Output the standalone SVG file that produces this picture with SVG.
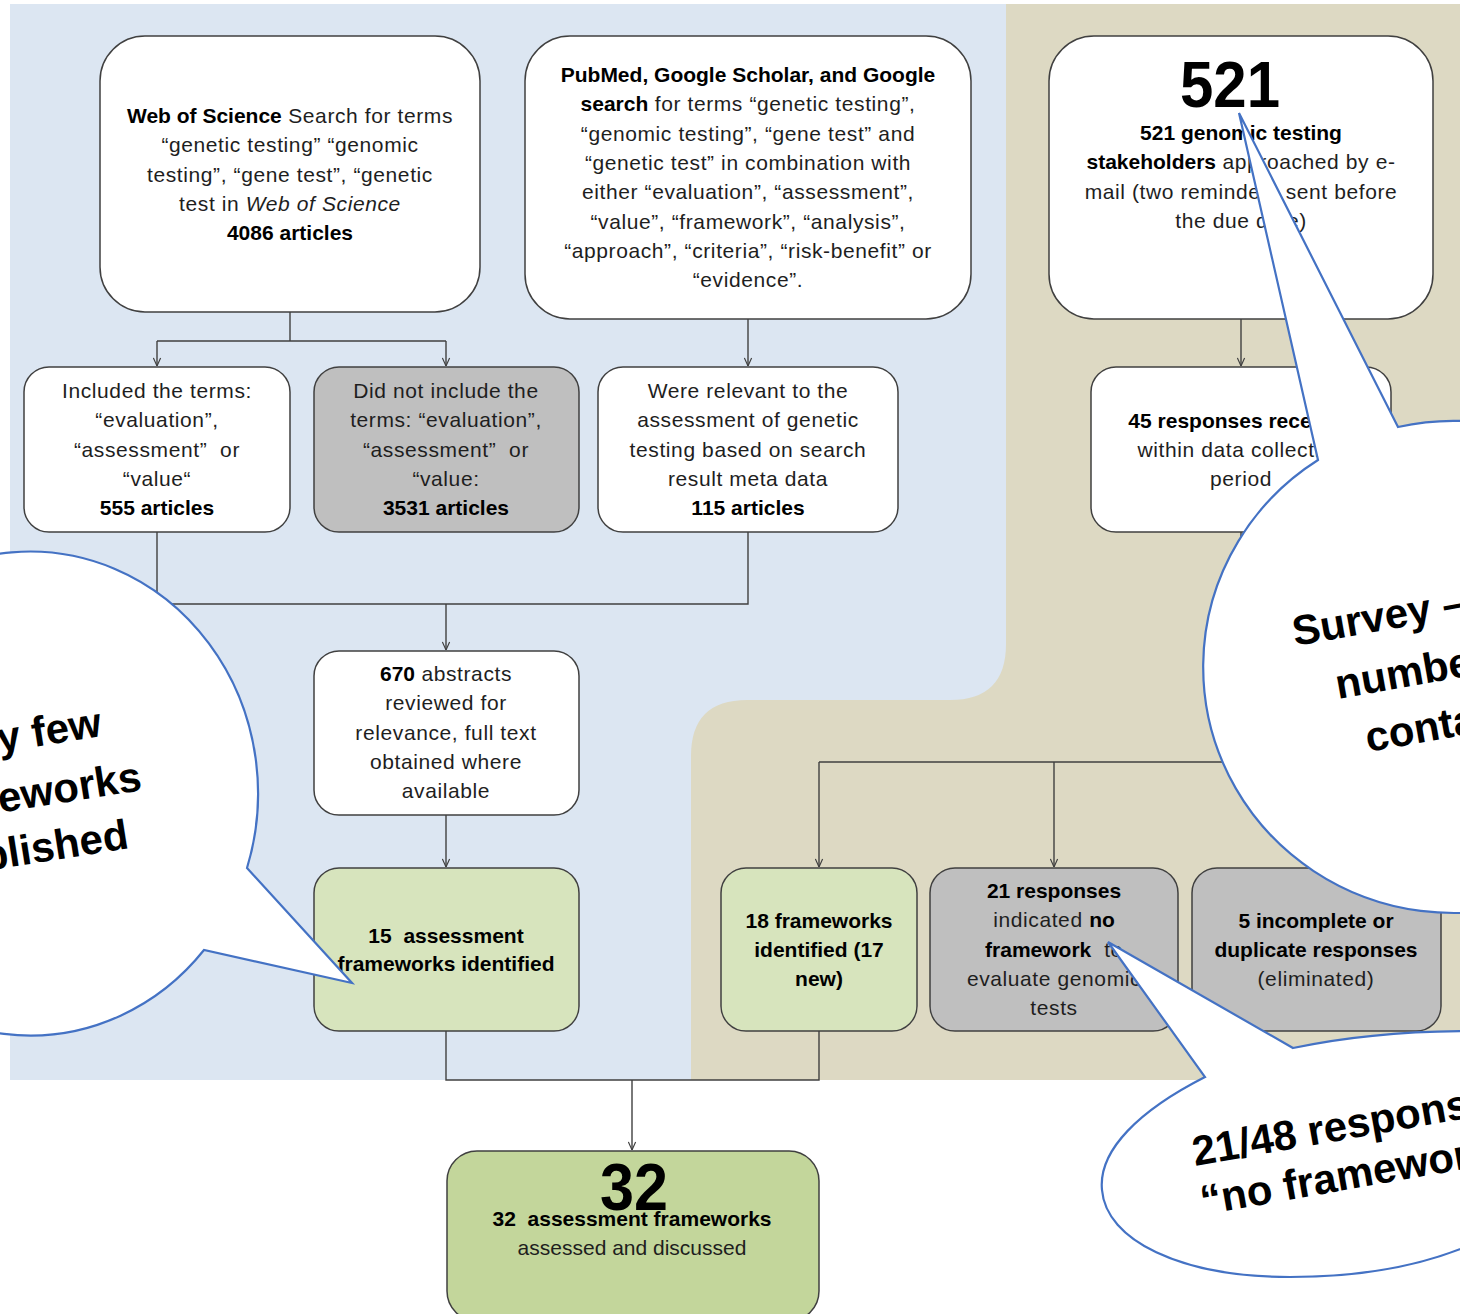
<svg xmlns="http://www.w3.org/2000/svg" width="1460" height="1314" viewBox="0 0 1460 1314">
<style>
.box{stroke:#404040;stroke-width:1.5}
.w{fill:#ffffff}
.g{fill:#bfbfbf}
.lg{fill:#d7e4bd}
.dg{fill:#c3d69b}
.t{font-family:"Liberation Sans",Arial,sans-serif;font-size:21px;fill:#1e1e1e;text-anchor:middle;letter-spacing:0.6px}
.b{font-weight:bold;letter-spacing:0;fill:#000}
.big{font-family:"Liberation Sans",Arial,sans-serif;font-weight:bold;fill:#000;text-anchor:middle}
.co{fill:#ffffff;stroke:#4472c4;stroke-width:2.2;stroke-linejoin:miter}
.c{font-family:"Liberation Sans",Arial,sans-serif;font-weight:bold;font-size:42px;fill:#000}
</style>
<defs>
<marker id="arr" viewBox="0 0 10 10" refX="10" refY="5" markerWidth="9" markerHeight="9" markerUnits="userSpaceOnUse" orient="auto">
<path d="M1,1 L10,5 L1,9" fill="none" stroke="#404040" stroke-width="1.3"/>
</marker>
</defs>

<g id="background">
<rect x="10" y="4" width="996" height="1076" fill="#dce6f2"/>
<path d="M1006,4 H1460 V1080 H691 V756 Q691,700 747,700 H950 Q1006,700 1006,644 Z" fill="#ddd9c3"/>
</g>

<g id="connectors" fill="none" stroke="#404040" stroke-width="1.4">
<path d="M290,312 V341 M157,341 H446"/>
<path d="M157,341 V366" marker-end="url(#arr)"/>
<path d="M446,341 V366" marker-end="url(#arr)"/>
<path d="M748,319 V366" marker-end="url(#arr)"/>
<path d="M1241,319 V366" marker-end="url(#arr)"/>
<path d="M157,532 V604 H748 V532"/>
<path d="M446,604 V650" marker-end="url(#arr)"/>
<path d="M446,815 V867" marker-end="url(#arr)"/>
<path d="M1241,532 V762 M819,762 H1316"/>
<path d="M819,762 V867" marker-end="url(#arr)"/>
<path d="M1054,762 V867" marker-end="url(#arr)"/>
<path d="M1316,762 V867" marker-end="url(#arr)"/>
<path d="M446,1031 V1080 H819 V1031"/>
<path d="M632,1080 V1150" marker-end="url(#arr)"/>
</g>

<g id="node-wos">
<rect class="box w" x="100" y="36" width="380" height="276" rx="45"/>
<text class="t" x="290" y="123"><tspan class="b">Web of Science</tspan> Search for terms</text>
<text class="t" x="290" y="152">“genetic testing” “genomic</text>
<text class="t" x="290" y="182">testing”, “gene test”, “genetic</text>
<text class="t" x="290" y="211">test in <tspan font-style="italic">Web of Science</tspan></text>
<text class="t b" x="290" y="240">4086 articles</text>
</g>

<g id="node-pubmed">
<rect class="box w" x="525" y="36" width="446" height="283" rx="45"/>
<text class="t b" x="748" y="82">PubMed, Google Scholar, and Google</text>
<text class="t" x="748" y="111"><tspan class="b">search</tspan> for terms “genetic testing”,</text>
<text class="t" x="748" y="141">“genomic testing”, “gene test” and</text>
<text class="t" x="748" y="170">“genetic test” in combination with</text>
<text class="t" x="748" y="199">either “evaluation”, “assessment”,</text>
<text class="t" x="748" y="229">“value”, “framework”, “analysis”,</text>
<text class="t" x="748" y="258">“approach”, “criteria”, “risk-benefit” or</text>
<text class="t" x="748" y="287">“evidence”.</text>
</g>

<g id="node-521">
<rect class="box w" x="1049" y="36" width="384" height="283" rx="45"/>
<text class="big" x="1230" y="107" font-size="64" textLength="100" lengthAdjust="spacingAndGlyphs">521</text>
<text class="t b" x="1241" y="140">521 genomic testing</text>
<text class="t" x="1241" y="169"><tspan class="b">stakeholders</tspan> approached by e-</text>
<text class="t" x="1241" y="199">mail (two reminders sent before</text>
<text class="t" x="1241" y="228">the due date)</text>
</g>

<g id="node-included">
<rect class="box w" x="24" y="367" width="266" height="165" rx="25"/>
<text class="t" x="157" y="398">Included the terms:</text>
<text class="t" x="157" y="427">“evaluation”,</text>
<text class="t" x="157" y="457">“assessment”&#160; or</text>
<text class="t" x="157" y="486">“value“</text>
<text class="t b" x="157" y="515">555 articles</text>
</g>

<g id="node-notincluded">
<rect class="box g" x="314" y="367" width="265" height="165" rx="25"/>
<text class="t" x="446" y="398">Did not include the</text>
<text class="t" x="446" y="427">terms: “evaluation”,</text>
<text class="t" x="446" y="457">“assessment”&#160; or</text>
<text class="t" x="446" y="486">“value:</text>
<text class="t b" x="446" y="515">3531 articles</text>
</g>

<g id="node-relevant">
<rect class="box w" x="598" y="367" width="300" height="165" rx="25"/>
<text class="t" x="748" y="398">Were relevant to the</text>
<text class="t" x="748" y="427">assessment of genetic</text>
<text class="t" x="748" y="457">testing based on search</text>
<text class="t" x="748" y="486">result meta data</text>
<text class="t b" x="748" y="515">115 articles</text>
</g>

<g id="node-45">
<rect class="box w" x="1091" y="367" width="300" height="165" rx="25"/>
<text class="t b" x="1241" y="428">45 responses received</text>
<text class="t" x="1241" y="457">within data collection</text>
<text class="t" x="1241" y="486">period</text>
</g>

<g id="node-670">
<rect class="box w" x="314" y="651" width="265" height="164" rx="25"/>
<text class="t" x="446" y="681"><tspan class="b">670</tspan> abstracts</text>
<text class="t" x="446" y="710">reviewed for</text>
<text class="t" x="446" y="740">relevance, full text</text>
<text class="t" x="446" y="769">obtained where</text>
<text class="t" x="446" y="798">available</text>
</g>

<g id="node-15">
<rect class="box lg" x="314" y="868" width="265" height="163" rx="25"/>
<text class="t b" x="446" y="943">15&#160; assessment</text>
<text class="t b" x="446" y="971">frameworks identified</text>
</g>

<g id="node-18">
<rect class="box lg" x="721" y="868" width="196" height="163" rx="25"/>
<text class="t b" x="819" y="928">18 frameworks</text>
<text class="t b" x="819" y="957">identified (17</text>
<text class="t b" x="819" y="986">new)</text>
</g>

<g id="node-21">
<rect class="box g" x="930" y="868" width="248" height="163" rx="25"/>
<text class="t b" x="1054" y="898">21 responses</text>
<text class="t" x="1054" y="927">indicated <tspan class="b">no</tspan></text>
<text class="t" x="1054" y="957"><tspan class="b">framework</tspan>&#160; to</text>
<text class="t" x="1054" y="986">evaluate genomic</text>
<text class="t" x="1054" y="1015">tests</text>
</g>

<g id="node-5">
<rect class="box g" x="1192" y="868" width="249" height="163" rx="25"/>
<text class="t b" x="1316" y="928">5 incomplete or</text>
<text class="t b" x="1316" y="957">duplicate responses</text>
<text class="t" x="1316" y="986">(eliminated)</text>
</g>

<g id="node-32">
<rect class="box dg" x="447" y="1151" width="372" height="170" rx="30"/>
<text class="big" x="634" y="1210" font-size="66" textLength="68" lengthAdjust="spacingAndGlyphs">32</text>
<text class="t b" x="632" y="1226">32&#160; assessment frameworks</text>
<text class="t" x="632" y="1255" style="letter-spacing:0">assessed and discussed</text>
</g>

<g id="callout-published">
<path class="co" d="M247,868 A228,242 0 1 0 204,950 L352,983 Z"/>
<text class="c" text-anchor="end" transform="translate(103,736) rotate(-9)">Very few</text>
<text class="c" text-anchor="end" transform="translate(143,790) rotate(-9)">frameworks</text>
<text class="c" text-anchor="end" transform="translate(130,848) rotate(-9)">published</text>
</g>

<g id="callout-survey">
<path class="co" d="M1318,460 A250,246 0 1 0 1398,427 L1239,113 Z"/>
<text class="c" transform="translate(1295,646) rotate(-10)">Survey –</text>
<text class="c" transform="translate(1338,699) rotate(-10)">number of</text>
<text class="c" transform="translate(1368,752) rotate(-10)">contacts</text>
</g>

<g id="callout-noframework">
<path class="co" d="M1205,1077 C1140,1110 1098,1150 1102,1190 C1106,1240 1180,1277 1290,1277 C1370,1277 1430,1262 1470,1245 L1470,1031 C1400,1031 1340,1038 1293,1048 L1108,942 Z"/>
<text class="c" transform="translate(1195,1166) rotate(-10)">21/48 responses</text>
<text class="c" transform="translate(1203,1215) rotate(-10)">“no framework”</text>
</g>
</svg>
